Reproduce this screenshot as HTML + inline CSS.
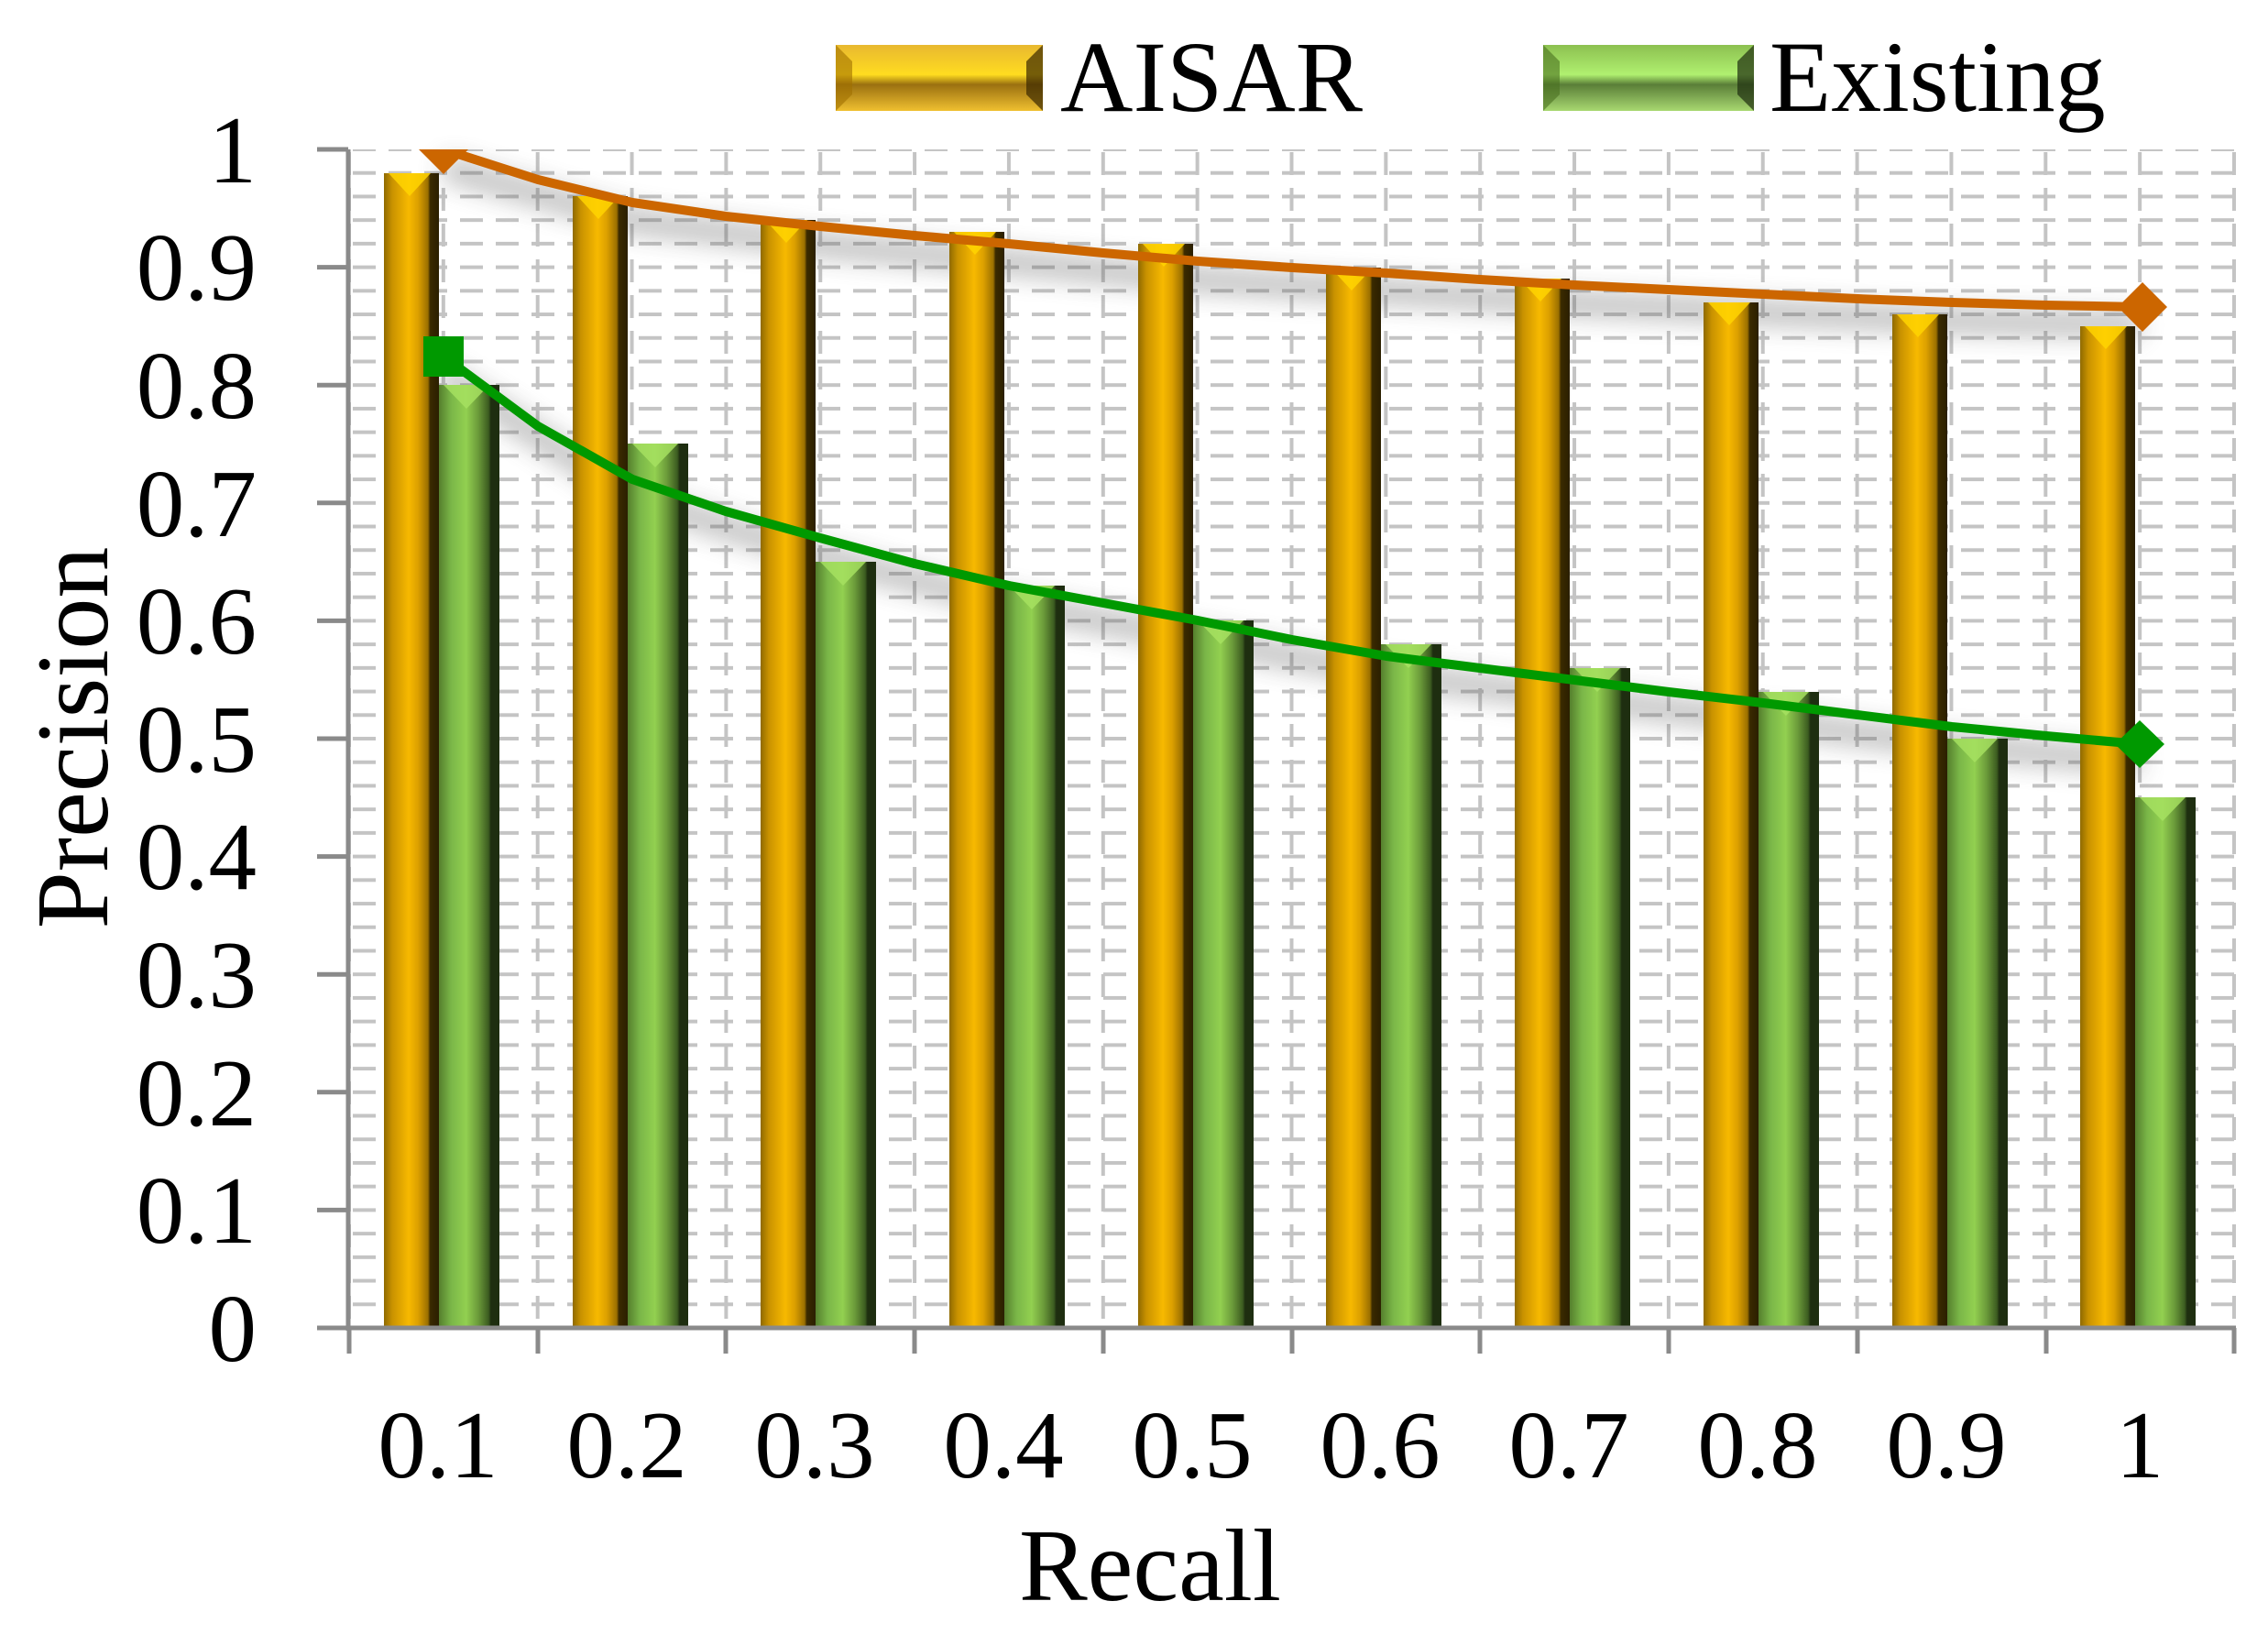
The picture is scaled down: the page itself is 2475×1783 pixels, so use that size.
<!DOCTYPE html>
<html><head><meta charset="utf-8"><style>html,body{margin:0;padding:0;background:#fff}svg{display:block}</style></head>
<body>
<svg width="2475" height="1783" viewBox="0 0 2475 1783" xmlns="http://www.w3.org/2000/svg">
<defs>
<linearGradient id="og" x1="0" x2="1" y1="0" y2="0">
<stop offset="0" stop-color="#8f6a00"/><stop offset="0.15" stop-color="#c99200"/><stop offset="0.45" stop-color="#f7b900"/><stop offset="0.62" stop-color="#dca000"/><stop offset="0.8" stop-color="#9a6f00"/><stop offset="0.84" stop-color="#3a2a00"/><stop offset="1" stop-color="#2b1f00"/>
</linearGradient>
<linearGradient id="gg" x1="0" x2="1" y1="0" y2="0">
<stop offset="0" stop-color="#557f2d"/><stop offset="0.2" stop-color="#7ab648"/><stop offset="0.45" stop-color="#92d050"/><stop offset="0.65" stop-color="#6b9a3a"/><stop offset="0.82" stop-color="#3c5c20"/><stop offset="0.86" stop-color="#1e2e10"/><stop offset="1" stop-color="#1e2e10"/>
</linearGradient>
<linearGradient id="olg" x1="0" x2="0" y1="0" y2="1">
<stop offset="0" stop-color="#e8b830"/><stop offset="0.45" stop-color="#ffdc20"/><stop offset="0.6" stop-color="#9a7010"/><stop offset="1" stop-color="#f0c030"/>
</linearGradient>
<linearGradient id="glg" x1="0" x2="0" y1="0" y2="1">
<stop offset="0" stop-color="#8cc050"/><stop offset="0.45" stop-color="#b0f070"/><stop offset="0.6" stop-color="#5a7e38"/><stop offset="1" stop-color="#a8d870"/>
</linearGradient>
<pattern id="hg" patternUnits="userSpaceOnUse" x="381" y="163" width="39" height="25.72">
<rect x="4" y="-2" width="25" height="4" fill="#c4c4c4"/><rect x="4" y="23.72" width="25" height="4" fill="#c4c4c4"/>
</pattern>
<pattern id="vg" patternUnits="userSpaceOnUse" x="379" y="163" width="102.85" height="39">
<rect x="0" y="3" width="4" height="25" fill="#c4c4c4"/>
</pattern>
<filter id="sh" x="-10%" y="-50%" width="120%" height="200%"><feGaussianBlur stdDeviation="14"/></filter>
<clipPath id="plot"><rect x="381" y="163" width="2060" height="1286"/></clipPath>
</defs>

<!-- grid -->
<rect x="381" y="163" width="2057" height="1286" fill="url(#hg)"/>
<rect x="381" y="163" width="2060" height="1286" fill="url(#vg)"/>

<!-- line shadows -->
<g filter="url(#sh)" opacity="0.45" fill="none" stroke="#555" stroke-width="22">
<polyline points="484,183 690,241 895,267 1101,286 1307,305 1513,318 1718,331 1924,341 2130,350 2335,355"/>
<polyline points="484,409 690,543 895,607 1101,659 1307,697 1513,736 1718,762 1924,787 2130,813 2335,832"/>
</g>

<!-- bars -->
<g>
<rect x="419" y="189" width="60" height="1260" fill="url(#og)"/><rect x="479" y="420" width="66" height="1029" fill="url(#gg)"/>
<rect x="625" y="214" width="60" height="1235" fill="url(#og)"/><rect x="685" y="484" width="66" height="965" fill="url(#gg)"/>
<rect x="830" y="240" width="60" height="1209" fill="url(#og)"/><rect x="890" y="613" width="66" height="836" fill="url(#gg)"/>
<rect x="1036" y="253" width="60" height="1196" fill="url(#og)"/><rect x="1096" y="639" width="66" height="810" fill="url(#gg)"/>
<rect x="1242" y="266" width="60" height="1183" fill="url(#og)"/><rect x="1302" y="677" width="66" height="772" fill="url(#gg)"/>
<rect x="1447" y="292" width="60" height="1157" fill="url(#og)"/><rect x="1507" y="703" width="66" height="746" fill="url(#gg)"/>
<rect x="1653" y="304" width="60" height="1145" fill="url(#og)"/><rect x="1713" y="729" width="66" height="720" fill="url(#gg)"/>
<rect x="1859" y="330" width="60" height="1119" fill="url(#og)"/><rect x="1919" y="755" width="66" height="694" fill="url(#gg)"/>
<rect x="2065" y="343" width="60" height="1106" fill="url(#og)"/><rect x="2125" y="806" width="66" height="643" fill="url(#gg)"/>
<rect x="2270" y="356" width="60" height="1093" fill="url(#og)"/><rect x="2330" y="870" width="66" height="579" fill="url(#gg)"/>
</g>
<!-- bar tops -->
<g fill="#ffd400" opacity="0.85">
<polygon points="424,189 470,189 447,214"/><polygon points="630,214 676,214 653,239"/><polygon points="835,240 881,240 858,265"/><polygon points="1041,253 1087,253 1064,278"/><polygon points="1247,266 1293,266 1270,291"/><polygon points="1452,292 1498,292 1475,317"/><polygon points="1658,304 1704,304 1681,329"/><polygon points="1864,330 1910,330 1887,355"/><polygon points="2070,343 2116,343 2093,368"/><polygon points="2275,356 2321,356 2298,381"/>
</g>
<g fill="#a6e060" opacity="0.85">
<polygon points="484,420 534,420 509,446"/><polygon points="690,484 740,484 715,510"/><polygon points="895,613 945,613 920,639"/><polygon points="1101,639 1151,639 1126,665"/><polygon points="1307,677 1357,677 1332,703"/><polygon points="1512,703 1562,703 1537,729"/><polygon points="1718,729 1768,729 1743,755"/><polygon points="1924,755 1974,755 1949,781"/><polygon points="2130,806 2180,806 2155,832"/><polygon points="2335,870 2385,870 2360,896"/>
</g>

<!-- lines -->
<g clip-path="url(#plot)">
<polyline fill="none" stroke="#cc6600" stroke-width="10" stroke-linejoin="round" points="484,163 587,196 690,221 792,236 895,247 998,257 1101,266 1204,276 1307,285 1410,292 1513,298 1615,305 1718,311 1821,316 1924,321 2027,326 2130,330 2233,333 2335,335"/>
<polyline fill="none" stroke="#009900" stroke-width="10" stroke-linejoin="round" points="484,389 587,465 690,523 792,558 895,587 998,615 1101,639 1204,658 1307,677 1410,698 1513,716 1615,729 1718,742 1821,755 1924,767 2027,780 2130,793 2233,803 2335,812"/>
<polygon points="484,136 511,163 484,190 457,163" fill="#cc6600"/>
<polygon points="2338,308 2365,335 2338,362 2311,335" fill="#cc6600"/>
<rect x="462" y="367" width="44" height="44" fill="#009900"/>
<polygon points="2335,786 2362,812 2335,838 2308,812" fill="#009900"/>
</g>

<!-- axes -->
<g stroke="#8a8a8a" stroke-width="5">
<line x1="380" y1="163" x2="380" y2="1452"/>
<line x1="346" y1="1449" x2="2440" y2="1449"/>
</g>
<g stroke="#8a8a8a" stroke-width="5">
<line x1="346" y1="163" x2="380" y2="163"/><line x1="346" y1="291.6" x2="380" y2="291.6"/><line x1="346" y1="420.2" x2="380" y2="420.2"/><line x1="346" y1="548.8" x2="380" y2="548.8"/><line x1="346" y1="677.4" x2="380" y2="677.4"/><line x1="346" y1="806" x2="380" y2="806"/><line x1="346" y1="934.6" x2="380" y2="934.6"/><line x1="346" y1="1063.2" x2="380" y2="1063.2"/><line x1="346" y1="1191.8" x2="380" y2="1191.8"/><line x1="346" y1="1320.4" x2="380" y2="1320.4"/>
<line x1="381" y1="1449" x2="381" y2="1477"/><line x1="587" y1="1449" x2="587" y2="1477"/><line x1="792" y1="1449" x2="792" y2="1477"/><line x1="998" y1="1449" x2="998" y2="1477"/><line x1="1204" y1="1449" x2="1204" y2="1477"/><line x1="1410" y1="1449" x2="1410" y2="1477"/><line x1="1615" y1="1449" x2="1615" y2="1477"/><line x1="1821" y1="1449" x2="1821" y2="1477"/><line x1="2027" y1="1449" x2="2027" y2="1477"/><line x1="2233" y1="1449" x2="2233" y2="1477"/><line x1="2438" y1="1449" x2="2438" y2="1477"/>
</g>

<!-- y labels -->
<g font-family="Liberation Serif, serif" font-size="105" fill="#000" text-anchor="end">
<text x="280" y="199">1</text><text x="280" y="327">0.9</text><text x="280" y="456">0.8</text><text x="280" y="585">0.7</text><text x="280" y="713">0.6</text><text x="280" y="842">0.5</text><text x="280" y="970">0.4</text><text x="280" y="1099">0.3</text><text x="280" y="1228">0.2</text><text x="280" y="1356">0.1</text><text x="280" y="1485">0</text>
</g>
<!-- x labels -->
<g font-family="Liberation Serif, serif" font-size="105" fill="#000" text-anchor="middle">
<text x="478" y="1612">0.1</text><text x="684" y="1612">0.2</text><text x="889" y="1612">0.3</text><text x="1095" y="1612">0.4</text><text x="1301" y="1612">0.5</text><text x="1506" y="1612">0.6</text><text x="1712" y="1612">0.7</text><text x="1918" y="1612">0.8</text><text x="2124" y="1612">0.9</text><text x="2335" y="1612">1</text>
</g>
<text x="1255" y="1746" font-family="Liberation Serif, serif" font-size="112" text-anchor="middle">Recall</text>
<text transform="translate(117,805) rotate(-90)" font-family="Liberation Serif, serif" font-size="112" text-anchor="middle">Precision</text>

<!-- legend -->
<rect x="912" y="49" width="226" height="72" fill="url(#olg)"/>
<polygon points="912,49 930,67 930,103 912,121" fill="#a07000" opacity="0.6"/>
<polygon points="1138,49 1120,67 1120,103 1138,121" fill="#3a2800" opacity="0.7"/>
<text x="1157" y="121" font-family="Liberation Serif, serif" font-size="110">AISAR</text>
<rect x="1684" y="49" width="230" height="72" fill="url(#glg)"/>
<polygon points="1684,49 1702,67 1702,103 1684,121" fill="#4a7020" opacity="0.6"/>
<polygon points="1914,49 1896,67 1896,103 1914,121" fill="#1e2e10" opacity="0.7"/>
<text x="1931" y="121" font-family="Liberation Serif, serif" font-size="110">Existing</text>
</svg>
</body></html>
